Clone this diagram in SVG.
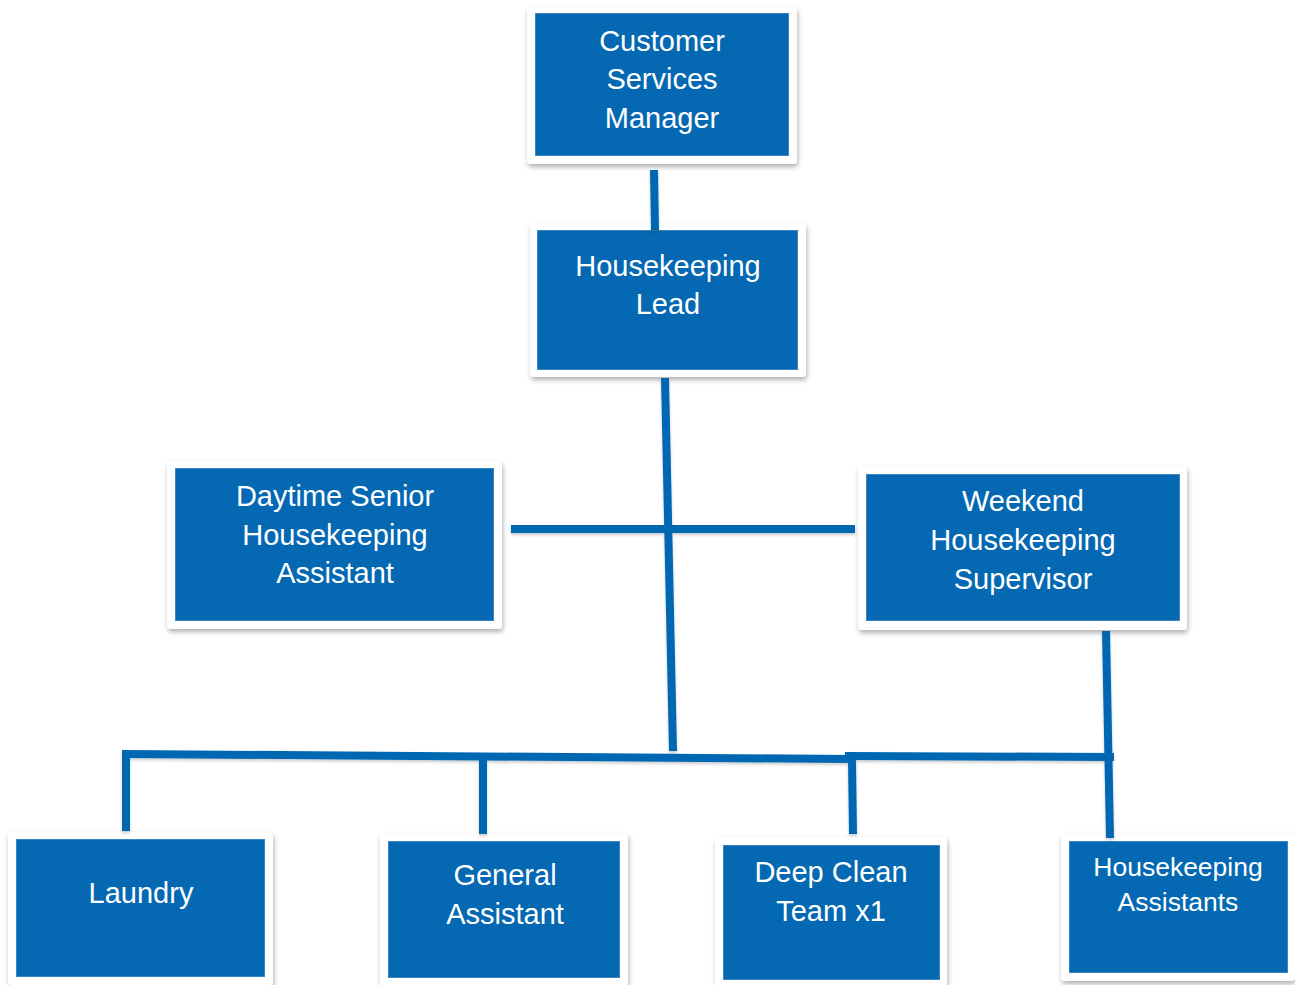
<svg xmlns="http://www.w3.org/2000/svg" width="1295" height="985" viewBox="0 0 1295 985">
<defs>
<filter id="sh" x="-10%" y="-10%" width="120%" height="130%">
<feDropShadow dx="1" dy="3" stdDeviation="2.5" flood-color="#000" flood-opacity="0.3"/>
</filter>
<filter id="lsh" x="-20%" y="-20%" width="140%" height="140%">
<feDropShadow dx="0" dy="2" stdDeviation="1.5" flood-color="#000" flood-opacity="0.2"/>
</filter>
</defs>
<style>
.frame{fill:#ffffff;filter:url(#sh);}
.box{fill:#0468b2;stroke:#3a86c4;stroke-width:1;}
.t{font-family:"Liberation Sans",Arial,sans-serif;font-size:29px;fill:#ffffff;text-anchor:middle;}
.ts{font-family:"Liberation Sans",Arial,sans-serif;font-size:26.5px;fill:#ffffff;text-anchor:middle;}
.c{stroke:#0468b2;stroke-width:8;fill:none;stroke-linecap:butt;}
</style>
<rect width="1295" height="985" fill="#ffffff"/>
<g id="n-csm">
<rect class="frame" x="527" y="7" width="270" height="157" rx="4"/>
<rect class="box" x="535.5" y="13.5" width="253" height="142"/>
<text class="t" x="662" y="51">Customer</text>
<text class="t" x="662" y="89">Services</text>
<text class="t" x="662" y="128">Manager</text>
</g>
<g id="n-lead">
<rect class="frame" x="530" y="223" width="276" height="154" rx="4"/>
<rect class="box" x="537.5" y="230.5" width="260" height="139"/>
<text class="t" x="668" y="276">Housekeeping</text>
<text class="t" x="668" y="314">Lead</text>
</g>
<g id="n-daytime">
<rect class="frame" x="167" y="461" width="335" height="168" rx="4"/>
<rect class="box" x="175.5" y="468.5" width="318" height="152"/>
<text class="t" x="335" y="506">Daytime Senior</text>
<text class="t" x="335" y="545">Housekeeping</text>
<text class="t" x="335" y="583">Assistant</text>
</g>
<g id="n-weekend">
<rect class="frame" x="858" y="466" width="329" height="164" rx="4"/>
<rect class="box" x="866.5" y="474.5" width="313" height="146"/>
<text class="t" x="1023" y="511">Weekend</text>
<text class="t" x="1023" y="550">Housekeeping</text>
<text class="t" x="1023" y="589">Supervisor</text>
</g>
<g id="n-laundry">
<rect class="frame" x="8" y="832" width="265" height="153" rx="4"/>
<rect class="box" x="16.5" y="839.5" width="248" height="137"/>
<text class="t" x="141" y="903">Laundry</text>
</g>
<g id="n-general">
<rect class="frame" x="380" y="833" width="248" height="153" rx="4"/>
<rect class="box" x="388.5" y="841.5" width="231" height="136"/>
<text class="t" x="505" y="885">General</text>
<text class="t" x="505" y="924">Assistant</text>
</g>
<g id="n-deepclean">
<rect class="frame" x="715" y="837" width="232" height="150" rx="4"/>
<rect class="box" x="723.5" y="845.5" width="216" height="134"/>
<text class="t" x="831" y="882">Deep Clean</text>
<text class="t" x="831" y="921">Team x1</text>
</g>
<g id="n-assistants">
<rect class="frame" x="1061" y="833" width="234" height="148" rx="4"/>
<rect class="box" x="1069.5" y="841.5" width="218" height="131"/>
<text class="ts" x="1178" y="876">Housekeeping</text>
<text class="ts" x="1178" y="911">Assistants</text>
</g>
<g id="connectors" filter="url(#lsh)">
<line class="c" x1="654" y1="170" x2="655" y2="230"/>
<line class="c" x1="665" y1="378" x2="673" y2="751"/>
<line class="c" x1="511" y1="529" x2="855" y2="529"/>
<line class="c" x1="1106" y1="631" x2="1110" y2="838"/>
<line class="c" x1="122" y1="754" x2="852" y2="759"/>
<line class="c" x1="845" y1="756" x2="1114" y2="757"/>
<line class="c" x1="126" y1="754" x2="126" y2="831"/>
<line class="c" x1="483" y1="758" x2="483" y2="834"/>
<line class="c" x1="852" y1="759" x2="853" y2="834"/>
</g>
</svg>
